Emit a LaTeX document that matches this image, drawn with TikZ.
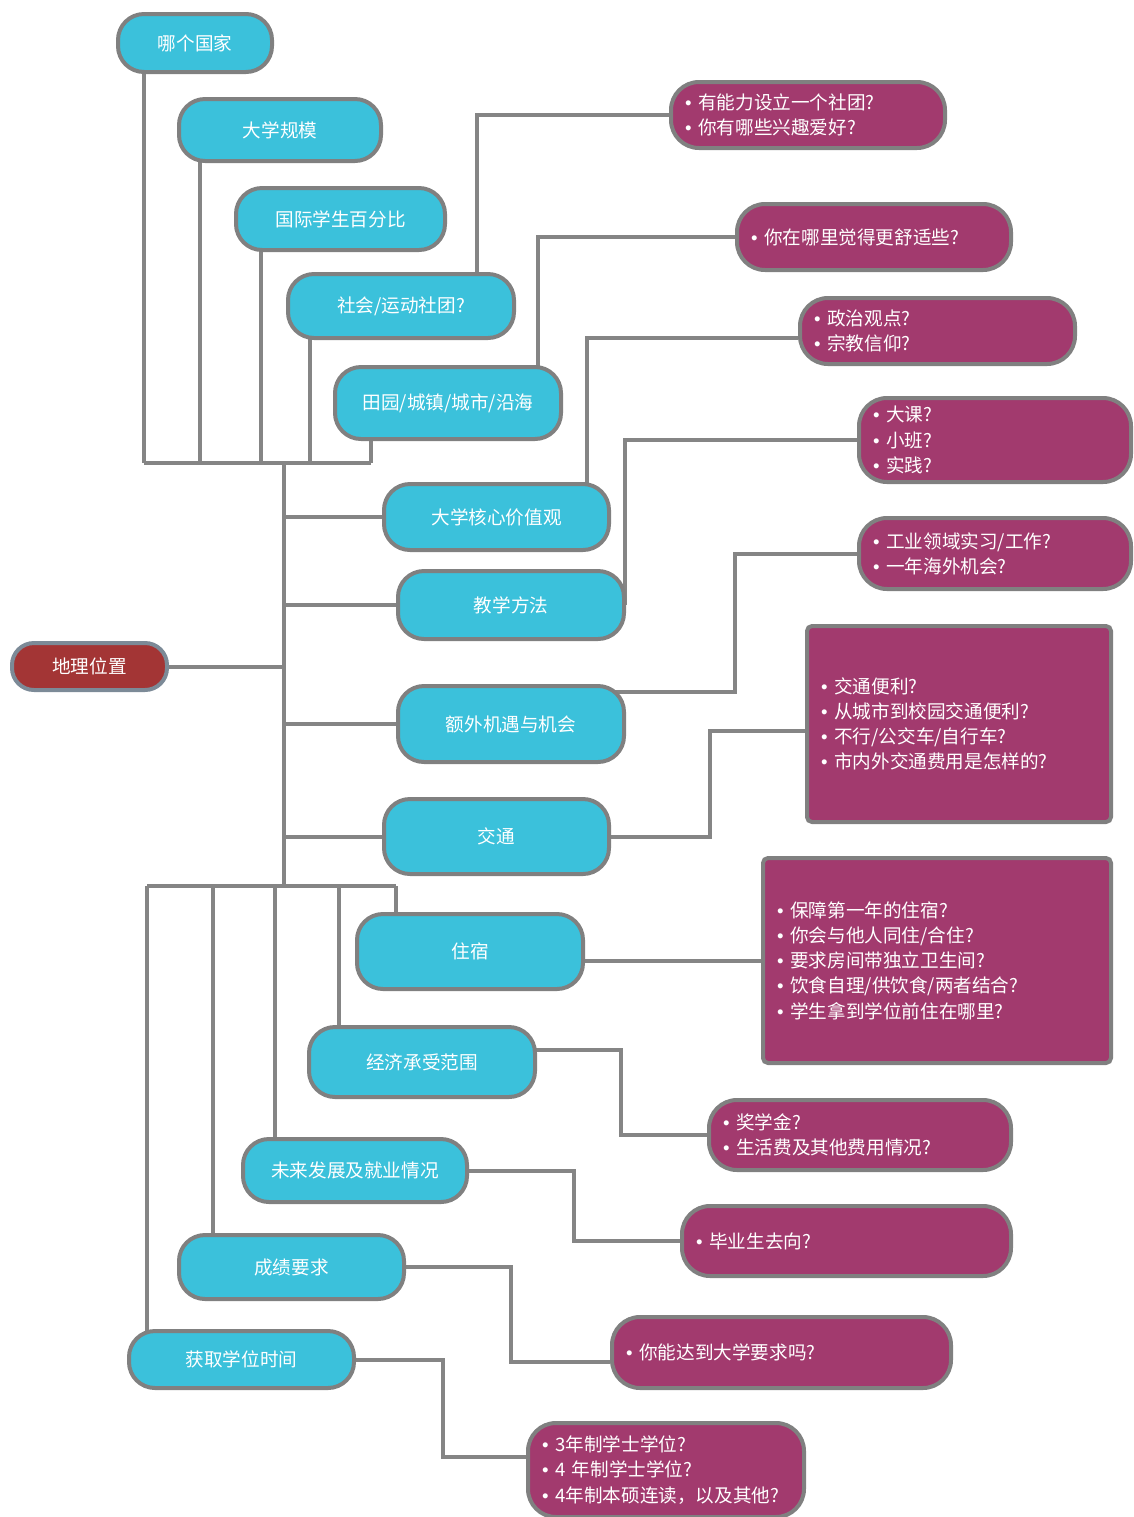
\documentclass[tikz,border=0pt]{standalone}
\usepackage{fontspec}
\setmainfont{Noto Sans CJK SC}
\newfontfamily\bulfont{Liberation Sans}
\usetikzlibrary{backgrounds}
\definecolor{cblue}{HTML}{3BC1DB}
\definecolor{cpurple}{HTML}{A23A6E}
\definecolor{cred}{HTML}{A33535}
\definecolor{cgray}{HTML}{808080}
\definecolor{cslate}{HTML}{7C8A97}
\definecolor{cline}{HTML}{858585}
\newcommand\myfs{\fontsize{9.3pt}{12.6pt}\selectfont}
\newcommand\bl{{\bulfont •}\hspace{3.4pt}}
\begin{document}
\begin{tikzpicture}[x=0.5pt,y=-0.5pt,
  conn/.style={draw=cline, line width=2pt},
  bnode/.style={draw=cgray, line width=2pt, fill=cblue, text=white, rounded corners=13pt, font=\myfs, inner sep=0pt},
  pnode/.style={draw=cgray, line width=2pt, fill=cpurple, text=white, rounded corners=14pt, font=\myfs, align=left, inner xsep=7pt, inner ysep=0pt},
  rnode/.style={pnode, rounded corners=2.5pt},
  geonode/.style={draw=cslate, line width=2pt, fill=cred, text=white, rounded corners=11pt, font=\myfs, inner sep=0pt}]
\useasboundingbox (0,0) rectangle (1134,1517);

% blue nodes
\node[bnode, minimum width=77pt, minimum height=29pt] (n1) at (195,43) {哪个国家};
\node[bnode, minimum width=101pt, minimum height=31pt] (n2) at (280,130) {大学规模};
\node[bnode, minimum width=104.5pt, minimum height=31pt] (n3) at (340.5,219) {国际学生百分比};
\node[bnode, minimum width=113pt, minimum height=32pt] (n4) at (401,306) {社会/运动社团?};
\node[bnode, minimum width=113pt, minimum height=36pt] (n5) at (448,403) {田园/城镇/城市/沿海};
\node[bnode, minimum width=112.5pt, minimum height=33pt] (n6) at (496.5,517) {大学核心价值观};
\node[bnode, minimum width=113pt, minimum height=34pt] (n7) at (511,605) {教学方法};
\node[bnode, minimum width=113pt, minimum height=38pt] (n8) at (511,724) {额外机遇与机会};
\node[bnode, minimum width=112.5pt, minimum height=37.5pt] (n9) at (496.5,836.5) {交通};
\node[bnode, minimum width=113pt, minimum height=37.5pt] (n10) at (470,951.5) {住宿};
\node[bnode, minimum width=113pt, minimum height=35pt] (n11) at (422,1062) {经济承受范围};
\node[bnode, minimum width=112pt, minimum height=31.5pt] (n12) at (355,1170.5) {未来发展及就业情况};
\node[bnode, minimum width=112.5pt, minimum height=32pt] (n13) at (291.5,1267) {成绩要求};
\node[bnode, minimum width=112.5pt, minimum height=28.5pt] (n14) at (241.5,1359.5) {获取学位时间};

% red node
\node[geonode, minimum width=77.5pt, minimum height=23.5pt] (geo) at (89.5,666.5) {地理位置};

% purple nodes
\node[pnode, text width=123pt, minimum height=33pt] (pA) at (808,115) {\bl 有能力设立一个社团?\\\bl 你有哪些兴趣爱好?};
\node[pnode, text width=123pt, minimum height=33pt] (pB) at (874,237) {\bl 你在哪里觉得更舒适些?};
\node[pnode, text width=123.5pt, minimum height=33pt] (pC) at (937.5,331) {\bl 政治观点?\\\bl 宗教信仰?};
\node[pnode, text width=122pt, minimum height=42pt] (pD) at (995,440) {\bl 大课?\\\bl 小班?\\\bl 实践?};
\node[pnode, text width=122pt, minimum height=35.5pt] (pE) at (995,553.5) {\bl 工业领域实习/工作?\\\bl 一年海外机会?};
\node[rnode, text width=138pt, minimum height=98pt] (pF) at (959,724) {\bl 交通便利?\\\bl 从城市到校园交通便利?\\\bl 不行/公交车/自行车?\\\bl 市内外交通费用是怎样的?};
\node[rnode, text width=160pt, minimum height=102.5pt] (pG) at (937,960.5) {\bl 保障第一年的住宿?\\\bl 你会与他人同住/合住?\\\bl 要求房间带独立卫生间?\\\bl 饮食自理/供饮食/两者结合?\\\bl 学生拿到学位前住在哪里?};
\node[pnode, text width=137pt, minimum height=35pt] (pH) at (860,1135) {\bl 奖学金?\\\bl 生活费及其他费用情况?};
\node[pnode, text width=150.5pt, minimum height=35pt] (pI) at (846.5,1241) {\bl 毕业生去向?};
\node[pnode, text width=155.5pt, minimum height=35.5pt] (pJ) at (781.5,1352.5) {\bl 你能达到大学要求吗?};
\node[pnode, text width=124pt, minimum height=47pt] (pK) at (666,1470) {\bl 3年制学士学位?\\\bl 4 年制学士学位?\\\bl 4年制本硕连读，以及其他?};

% junction coordinates
\coordinate (j1) at (144,463);
\coordinate (j2) at (200,463);
\coordinate (j3) at (261,463);
\coordinate (j4) at (310,463);
\coordinate (j5) at (371,463);
\coordinate (ttop) at (284,463);
\coordinate (tbot) at (284,886);
\coordinate (k1) at (396,886);
\coordinate (k2) at (339,886);
\coordinate (k3) at (275,886);
\coordinate (k4) at (213,886);
\coordinate (k5) at (147,886);

\begin{pgfonlayer}{background}
  % top bracket
  \draw[conn] (j1) -- (j5);
  \draw[conn] (j1 |- n1.center) -- (j1);
  \draw[conn] (j2 |- n2.center) -- (j2);
  \draw[conn] (j3 |- n3.center) -- (j3);
  \draw[conn] (j4 |- n4.center) -- (j4);
  \draw[conn] (j5 |- n5.center) -- (j5);
  % trunk
  \draw[conn] (ttop) -- (tbot);
  \draw[conn] (n6.center) -- (n6.center -| ttop);
  \draw[conn] (n7.center) -- (n7.center -| ttop);
  \draw[conn] (n8.center) -- (n8.center -| ttop);
  \draw[conn] (n9.center) -- (n9.center -| ttop);
  \draw[conn] (geo.center) -- (geo.center -| ttop);
  % bottom bracket
  \draw[conn] (k5) -- (k1);
  \draw[conn] (k1) -- (k1 |- n10.center);
  \draw[conn] (k2) -- (k2 |- n11.center);
  \draw[conn] (k3) -- (k3 |- n12.center);
  \draw[conn] (k4) -- (k4 |- n13.center);
  \draw[conn] (k5) -- (k5 |- n14.center);
  % to purple nodes
  \draw[conn] (n4.center) ++(76,0) |- (pA.west);
  \draw[conn] (n5.center) ++(90,0) |- (pB.west);
  \draw[conn] (n6.center) ++(90,0) |- ([yshift=-3.5pt]pC.west);
  \draw[conn] (n7.center) ++(114,0) |- (pD.west);
  \draw[conn] (n8.center) ++(0,-32) -- ++(224,0) |- (pE.west);
  \draw[conn] (n9.center) -- ++(213,0) |- ([yshift=-3.5pt]pF.west);
  \draw[conn] (n10.center |- pG.west) -- (pG.west);
  \draw[conn] (n11.center) ++(0,-12) -- ++(199,0) |- (pH.west);
  \draw[conn] (n12.center) -- ++(219,0) |- (pI.west);
  \draw[conn] (n13.center) -- ++(219,0) |- ([yshift=-4.5pt]pJ.west);
  \draw[conn] (n14.center) -- ++(201,0) |- ([yshift=6.5pt]pK.west);
\end{pgfonlayer}
\end{tikzpicture}
\end{document}
